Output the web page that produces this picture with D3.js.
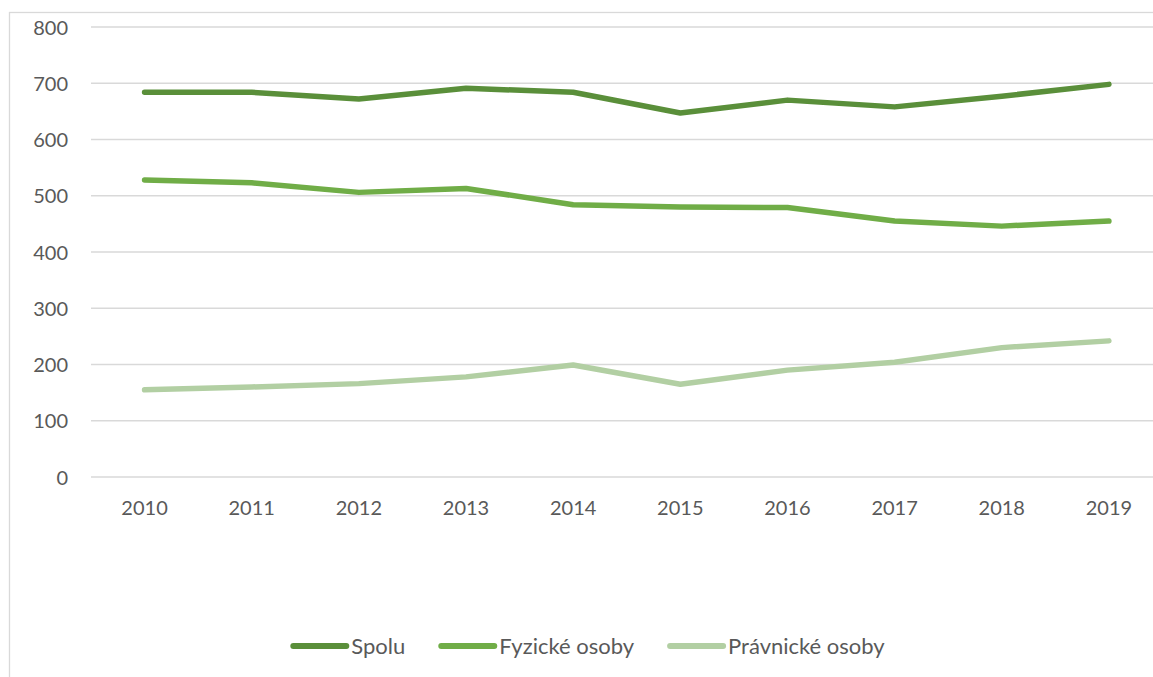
<!DOCTYPE html>
<html>
<head>
<meta charset="utf-8">
<script src="https://cdn.jsdelivr.net/npm/d3@7"></script>
<style>
  html, body { margin: 0; padding: 0; background: #fff; overflow: hidden; }
  svg { display: block; font-family: Lato, "Open Sans", sans-serif; }
</style>
</head>
<body>
<svg id="chart" width="1153" height="677"></svg>
<script>
// Years on the horizontal axis
const years = ["2010", "2011", "2012", "2013", "2014", "2015", "2016", "2017", "2018", "2019"];

// Series values
const spolu = [684, 684, 672, 691, 684, 647, 670, 658, 677, 698];
const fyzickeOsoby = [528, 523, 506, 513, 484, 480, 479, 455, 446, 455];
const pravnickeOsoby = [155, 160, 166, 178, 199, 165, 190, 204, 230, 242];

// Value axis ticks
const yTicks = [0, 100, 200, 300, 400, 500, 600, 700, 800];

const seriesNames = ["Spolu", "Fyzické osoby", "Právnické osoby"];
const seriesColors = ["#5a8f3a", "#70ad47", "#b2cfa3"];
const seriesValues = [spolu, fyzickeOsoby, pravnickeOsoby];

const series = seriesNames.map((name, i) => ({
  name, color: seriesColors[i], values: seriesValues[i]
}));

const svg = d3.select("#chart");
const textColor = "#595959";
const gridColor = "#d9d9d9";

// Outer chart frame
svg.append("rect")
  .attr("x", 9.5).attr("y", 12.5)
  .attr("width", 1160).attr("height", 700)
  .attr("fill", "none")
  .attr("stroke", gridColor)
  .attr("stroke-width", 1.3);

const x = d3.scaleBand().domain(years).range([91, 1162.5]).padding(0);
const y = d3.scaleLinear().domain([0, 800]).range([477, 27]);
const cx = d => x(d) + x.bandwidth() / 2;

// Horizontal gridlines
svg.append("g")
  .selectAll("line")
  .data(yTicks)
  .join("line")
  .attr("x1", 91).attr("x2", 1162.5)
  .attr("y1", d => y(d)).attr("y2", d => y(d))
  .attr("stroke", gridColor)
  .attr("stroke-width", 1.3);

// Value axis labels
const yAxis = d3.axisLeft(y).tickValues(yTicks).tickSize(0).tickPadding(0);
const yg = svg.append("g").attr("transform", "translate(68,0)").call(yAxis);
yg.select(".domain").remove();
yg.selectAll("text")
  .attr("fill", textColor)
  .attr("font-size", 20)
  .attr("font-family", "Lato, sans-serif")
  .attr("dy", "0.35em");

// Category axis labels
const xAxis = d3.axisBottom(x).tickSize(0).tickPadding(0);
const xg = svg.append("g").attr("transform", "translate(0,508)").call(xAxis);
xg.select(".domain").remove();
xg.selectAll("text")
  .attr("fill", textColor)
  .attr("font-size", 20)
  .attr("font-family", "Lato, sans-serif")
  .attr("dy", "0.35em");

// Series lines
const line = d3.line()
  .x((d, i) => cx(years[i]))
  .y(d => y(d));

svg.append("g")
  .selectAll("path")
  .data(series)
  .join("path")
  .attr("d", d => line(d.values))
  .attr("fill", "none")
  .attr("stroke", d => d.color)
  .attr("stroke-width", 5.5)
  .attr("stroke-linejoin", "round")
  .attr("stroke-linecap", "round");

// Legend
const legendY = 646;
const swatch = 53;
const textGap = 5;
const legend = svg.append("g");
const items = legend.selectAll("g")
  .data(series)
  .join("g");
items.append("line")
  .attr("x1", 0).attr("x2", swatch)
  .attr("y1", legendY).attr("y2", legendY)
  .attr("stroke", d => d.color)
  .attr("stroke-width", 6)
  .attr("stroke-linecap", "round");
items.append("text")
  .attr("x", swatch + textGap)
  .attr("y", legendY)
  .attr("dy", "0.35em")
  .attr("fill", textColor)
  .attr("font-size", 22)
  .text(d => d.name);

let cursor = 0;
const widths = [];
items.each(function () {
  const w = swatch + textGap + d3.select(this).select("text").node().getComputedTextLength();
  widths.push(w);
});
const gap = 36;
const total = d3.sum(widths) + gap * (widths.length - 1);
const start = 589 - total / 2;
items.attr("transform", (d, i) => {
  const tx = start + cursor;
  cursor += widths[i] + gap;
  return `translate(${tx},0)`;
});
</script>
</body>
</html>
